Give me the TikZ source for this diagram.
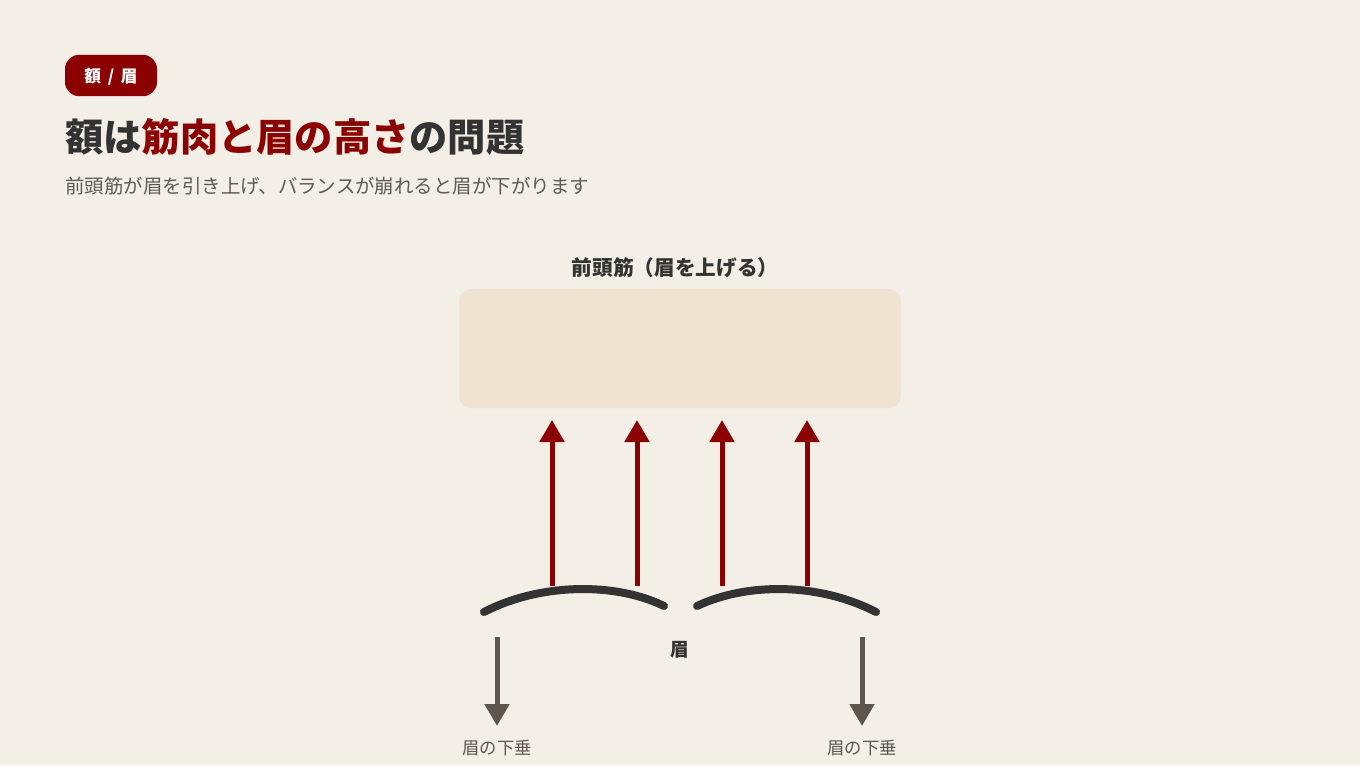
\documentclass[tikz,border=0pt]{standalone}
\usepackage{fontspec}
\setmainfont{Noto Sans CJK JP}
\usetikzlibrary{arrows.meta}
\definecolor{bg}{HTML}{F3EEE6}
\definecolor{accent}{HTML}{8B0000}
\definecolor{ink}{HTML}{333333}
\definecolor{sub}{HTML}{5F5A55}
\definecolor{boxfill}{HTML}{F0E3D2}
\definecolor{droop}{HTML}{5E564D}
\tikzset{
  txt/.style={inner sep=0pt, text height=.88em, text depth=.12em},
  uparrow/.style={draw=accent, line width=3.75pt, -{Triangle[width=18pt,length=16.5pt]}, fill=accent},
  downarrow/.style={draw=droop, line width=3.75pt, -{Triangle[width=18pt,length=16.5pt]}, fill=droop},
  brow/.style={draw=ink, line width=6pt, line cap=round},
}
\begin{document}
\begin{tikzpicture}[x=0.75pt,y=-0.75pt]
\path[fill=bg] (0,0) rectangle (1360,765);
\useasboundingbox (0,0) rectangle (1360,765);
% tag
\node[fill=accent, rounded corners=10.5pt, minimum width=69pt, minimum height=31pt, inner sep=0pt] (tag) at (111,75.5) {};
\node[txt, text=white, font=\bfseries\fontsize{12.5}{12.5}\selectfont] (tagtext) at (111,77.5) {額\hspace{5pt}/\hspace{5pt}眉};
% title
\node[txt, anchor=west, font=\bfseries\fontsize{28.7}{30}\selectfont, text=ink] (title) at (65,146) {額は\textcolor{accent}{筋肉と眉の高さ}の問題};
% subtitle
\node[txt, anchor=west, font=\fontsize{14.6}{16}\selectfont, text=sub] (subtitle) at (65,188.5) {前頭筋が眉を引き上げ、バランスが崩れると眉が下がります};
% muscle label and box
\node[txt, font=\bfseries\fontsize{15.5}{16}\selectfont, text=ink] (mlabel) at (675,270) {前頭筋（眉を上げる）};
\node[fill=boxfill, rounded corners=9pt, minimum width=331.5pt, minimum height=89.25pt, inner sep=0pt] (muscle) at (680,348.5) {};
% up arrows
\foreach \i/\x in {1/552,2/637,3/722,4/807}{
  \coordinate (ub\i) at (\x,586);
  \coordinate (ut\i) at (\x,420);
  \draw[uparrow] (ub\i) -- (ut\i);
}
% brows
\coordinate (bl1) at (484,612);
\coordinate (bl2) at (664,606);
\coordinate (br1) at (697,606);
\coordinate (br2) at (876,612);
\draw[brow] (bl1) .. controls (540,583) and (615,582) .. (bl2);
\draw[brow] (br1) .. controls (748,582) and (820,583) .. (br2);
\node[txt, font=\bfseries\fontsize{14}{14}\selectfont, text=ink] (browlabel) at (680,651) {眉};
% down arrows
\coordinate (dl1) at (497,637);
\coordinate (dl2) at (497,726);
\coordinate (dr1) at (862,637);
\coordinate (dr2) at (862,726);
\draw[downarrow] (dl1) -- (dl2);
\draw[downarrow] (dr1) -- (dr2);
\node[txt, font=\fontsize{13}{13}\selectfont, text=droop] (droopl) at (497,749.5) {眉の下垂};
\node[txt, font=\fontsize{13}{13}\selectfont, text=droop] (droopr) at (862,749.5) {眉の下垂};
\end{tikzpicture}
\end{document}
